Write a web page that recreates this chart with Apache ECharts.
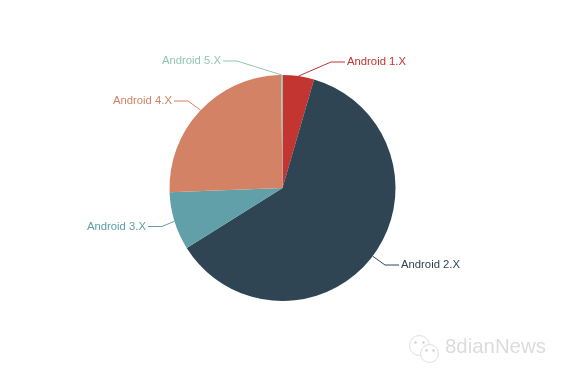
<!DOCTYPE html>
<html>
<head>
<meta charset="utf-8">
<style>html,body{margin:0;background:#fff}#main{width:565px;height:377px}</style>
<script src="https://cdn.jsdelivr.net/npm/echarts@6/dist/echarts.min.js"></script>
</head>
<body>
<div id="main"></div>
<script>
var names = ['Android 1.X', 'Android 2.X', 'Android 3.X', 'Android 4.X', 'Android 5.X']
var values = [4.5, 61.6, 8.3, 25.4, 0.2]
var colors = ['#c23531', '#2f4554', '#61a0a8', '#d48265', '#91c7ae']

var data = []
for (var i = 0; i < names.length; i++) {
  data.push({ name: names[i], value: values[i] })
}

// 标签位置
var labelX = [347, 401, 146, 172, 221]
var labelY = [62, 265, 226.5, 101, 61]
var labelAlign = ['left', 'left', 'right', 'right', 'right']

var myChart = echarts.init(document.getElementById('main'))
myChart.setOption({
  animation: false,
  color: colors,
  textStyle: { fontFamily: 'Liberation Sans, Arial, sans-serif' },
  series: [
    {
      type: 'pie',
      center: [282.5, 188],
      radius: [0, 113],
      startAngle: 90,
      avoidLabelOverlap: false,
      // 白色描边让引导线和文字之间留一点空隙
      label: { fontSize: 11.3, color: 'inherit', textBorderColor: '#fff', textBorderWidth: 4 },
      labelLine: { length: 15, length2: 14, lineStyle: { width: 1 } },
      labelLayout: function (params) {
        var i = params.dataIndex
        return { x: labelX[i], y: labelY[i], align: labelAlign[i], verticalAlign: 'middle' }
      },
      data: data
    }
  ],
  graphic: [
    {
      type: 'text',
      left: 445,
      top: 337,
      style: { text: '8dianNews', fontSize: 20.4, fill: '#dcdcdc', fontFamily: 'Liberation Sans' }
    },
    {
      type: 'group',
      left: 409,
      top: 335,
      children: [
        { type: 'circle', shape: { cx: 11, cy: 10, r: 10 }, style: { fill: '#fff', stroke: '#dedede', lineWidth: 1 } },
        { type: 'circle', shape: { cx: 21, cy: 18, r: 9 }, style: { fill: '#fff', stroke: '#dedede', lineWidth: 1 } },
        { type: 'circle', shape: { cx: 7, cy: 7, r: 1.2 }, style: { fill: '#cfcfcf' } },
        { type: 'circle', shape: { cx: 15, cy: 7, r: 1.2 }, style: { fill: '#cfcfcf' } },
        { type: 'circle', shape: { cx: 18, cy: 15, r: 1.2 }, style: { fill: '#cfcfcf' } },
        { type: 'circle', shape: { cx: 25, cy: 15, r: 1.2 }, style: { fill: '#cfcfcf' } }
      ]
    }
  ]
})
</script>
</body>
</html>
